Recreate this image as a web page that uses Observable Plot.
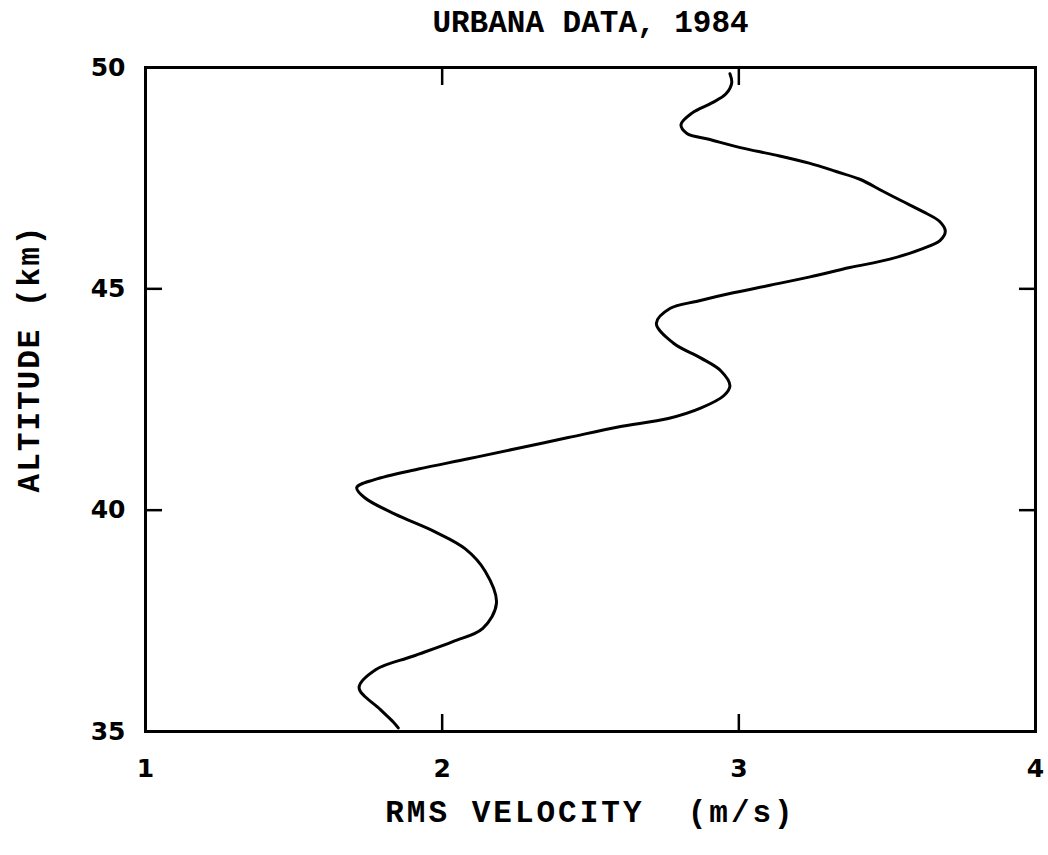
<!DOCTYPE html>
<html>
<head>
<meta charset="utf-8">
<script src="https://cdn.jsdelivr.net/npm/d3@7"></script>
<script src="https://cdn.jsdelivr.net/npm/@observablehq/plot@0.6"></script>
<style>
  html, body { margin: 0; padding: 0; background: #fff; }
  #chart svg { display: block; }
</style>
</head>
<body>
<div id="chart"></div>
<script>
// ---- Data ----
const title = "URBANA DATA, 1984";
const xLabel = "RMS VELOCITY  (m/s)";
const yLabel = "ALTITUDE (km)";
const xTicks = [1, 2, 3, 4];
const yTicks = [35, 40, 45, 50];
const xInnerTicks = [2, 3];
const yInnerTicks = [40, 45];

// RMS velocity (m/s) profile, ordered from top to bottom
const velocity = [
  2.97, 2.976, 2.956, 2.909, 2.842, 2.805, 2.825, 2.899, 3.005, 3.125,
  3.237, 3.328, 3.41, 3.484, 3.548, 3.619, 3.677, 3.696, 3.678, 3.62,
  3.509, 3.374, 3.24, 3.105, 2.981, 2.86, 2.769, 2.722, 2.78,
  2.871, 2.939, 2.97, 2.95, 2.873, 2.762, 2.593, 2.425, 2.256,
  2.088, 1.92, 1.772, 1.712, 1.739, 1.841, 1.976, 2.077, 2.145, 2.183,
  2.137, 2.036, 1.901, 1.777, 1.72, 1.791, 1.836, 1.852
];
const altitude = [
  49.86, 49.65, 49.40, 49.20, 48.97, 48.71, 48.51, 48.38, 48.19, 48.02,
  47.84, 47.65, 47.47, 47.21, 46.99, 46.75, 46.52, 46.30, 46.09, 45.91,
  45.67, 45.48, 45.27, 45.08, 44.91, 44.72, 44.56, 44.22, 43.77,
  43.44, 43.15, 42.81, 42.59, 42.31, 42.07, 41.88, 41.64, 41.40,
  41.16, 40.93, 40.69, 40.51, 40.28, 39.91, 39.51, 39.13, 38.62, 37.9,
  37.33, 37.03, 36.70, 36.40, 35.99, 35.50, 35.21, 35.08
];

const profile = velocity.map((v, i) => ({velocity: v, altitude: altitude[i]}));

const monoFont = "'Liberation Mono', 'DejaVu Sans Mono', monospace";
const sansFont = "'DejaVu Sans', 'Liberation Sans', sans-serif";
const tickLen = 17;

const chart = Plot.plot({
  width: 1048,
  height: 855,
  marginLeft: 145,
  marginRight: 13,
  marginTop: 67,
  marginBottom: 124,
  style: {background: "#fff", color: "#000", fontFamily: sansFont},
  x: {domain: [1, 4], axis: null},
  y: {domain: [35, 50], axis: null},
  marks: [
    Plot.frame({stroke: "#000", strokeWidth: 3}),
    // tick labels
    Plot.axisX(xTicks, {anchor: "bottom", tickSize: 0, tickPadding: 28, fontSize: 25, fontWeight: "bold", fontFamily: sansFont, label: null, tickFormat: d => String(d)}),
    Plot.axisY(yTicks, {anchor: "left", tickSize: 0, tickPadding: 20, fontSize: 25, fontWeight: "bold", fontFamily: sansFont, label: null, tickFormat: d => String(d)}),
    // inward ticks
    Plot.axisX(xInnerTicks, {anchor: "bottom", tickSize: tickLen, dy: -tickLen, text: null, label: null, strokeWidth: 2.5}),
    Plot.axisX(xInnerTicks, {anchor: "top", tickSize: tickLen, dy: tickLen, text: null, label: null, strokeWidth: 2.5}),
    Plot.axisY(yInnerTicks, {anchor: "left", tickSize: tickLen, dx: tickLen, text: null, label: null, strokeWidth: 2.5}),
    Plot.axisY(yInnerTicks, {anchor: "right", tickSize: tickLen, dx: -tickLen, text: null, label: null, strokeWidth: 2.5}),
    // the profile
    Plot.line(profile, {x: "velocity", y: "altitude", curve: "catmull-rom", stroke: "#000", strokeWidth: 3}),
    // titles
    Plot.text([title], {frameAnchor: "top", lineAnchor: "middle", textAnchor: "middle", dy: -45, text: d => d, fontFamily: monoFont, fontWeight: "bold", fontSize: 31, fill: "#000"}),
    Plot.text([xLabel], {frameAnchor: "bottom", lineAnchor: "middle", textAnchor: "middle", dy: 81, text: d => d, fontFamily: monoFont, fontWeight: "bold", fontSize: 31, fill: "#000"}),
    Plot.text([yLabel], {frameAnchor: "left", lineAnchor: "middle", textAnchor: "middle", dx: -116, dy: -41, rotate: -90, text: d => d, fontFamily: monoFont, fontWeight: "bold", fontSize: 31, fill: "#000"})
  ]
});
// letter spacing for the axis titles (plotter lettering is widely spaced)
d3.select(chart).selectAll("text").each(function() {
  const t = this.textContent;
  if (t === xLabel) this.setAttribute("letter-spacing", "3");
  if (t === yLabel) this.setAttribute("letter-spacing", "2");
});
document.getElementById("chart").appendChild(chart);
</script>
</body>
</html>
